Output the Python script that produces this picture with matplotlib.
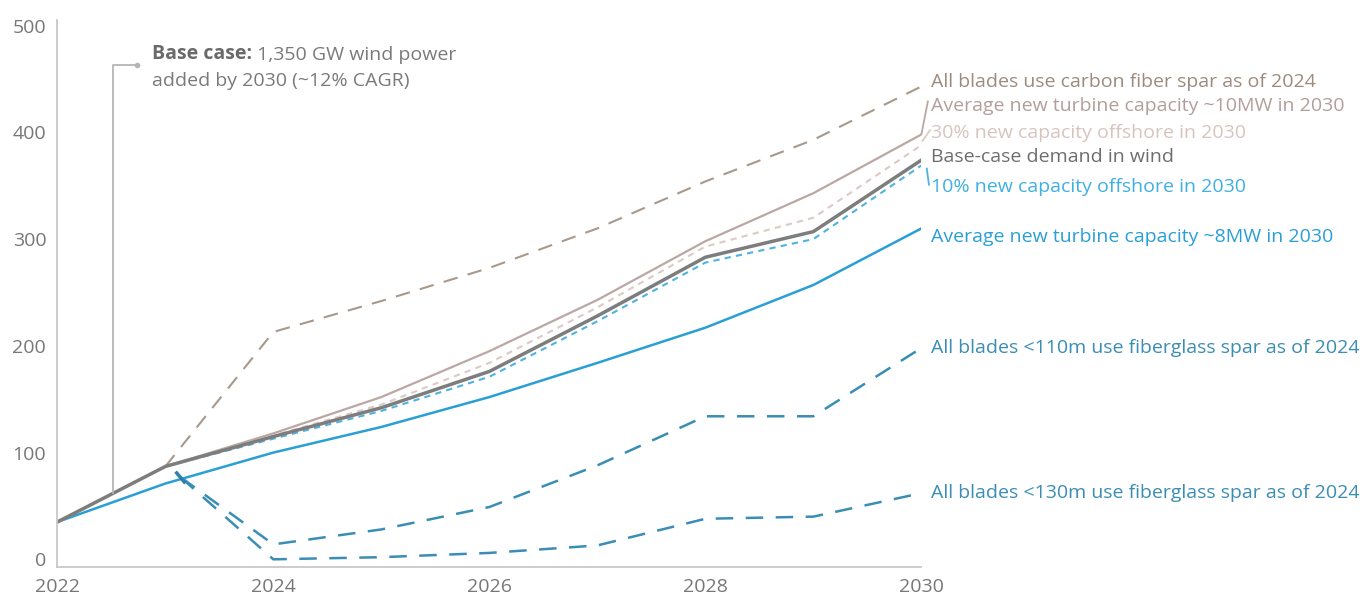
import numpy as np
import matplotlib.pyplot as plt

plt.rcParams['font.family'] = ['Open Sans', 'DejaVu Sans']

# ---- datos ----
years = [2022, 2023, 2024, 2025, 2026, 2027, 2028, 2029, 2030]
base = [35, 87, 115, 142, 176, 228, 283, 307, 374]
mw8 = [35, 71, 100, 124, 152, 184, 217, 257, 310]
off10 = [35, 87, 113, 139, 171, 223, 278, 300, 369]
off30 = [35, 87, 116, 145, 184, 236, 293, 320, 388]
mw10 = [35, 87, 118, 152, 195, 243, 298, 343, 398]

carbon_years = [2023, 2024, 2025, 2026, 2027, 2028, 2029, 2030]
carbon = [87, 213, 242, 273, 310, 354, 393, 443]

fg_years = [2023.14, 2024, 2025, 2026, 2027, 2028, 2029, 2030]
fg110 = [77, 14, 28, 49, 88, 134, 134, 198]
fg130 = [77, 0, 2, 6, 13, 38, 40, 62]

labels = ['All blades use carbon fiber spar as of 2024',
          'Average new turbine capacity ~10MW in 2030',
          '30% new capacity offshore in 2030',
          'Base-case demand in wind',
          '10% new capacity offshore in 2030',
          'Average new turbine capacity ~8MW in 2030',
          'All blades <110m use fiberglass spar as of 2024',
          'All blades <130m use fiberglass spar as of 2024']
label_y = [447, 425, 399, 377, 349, 302, 198, 62]
label_col = ['#9c8b7e', '#b29e9a', '#d8c4bf', '#6e6e6e', '#3fb0e0',
             '#2a9fd6', '#3a8db4', '#3a8db4']

fs = 14

fig = plt.figure(figsize=(13.65, 5.96), dpi=100)
ax = fig.add_axes([0.042, 0.049, 0.633, 0.917])

ax.plot(carbon_years, carbon, color='#a8998c', lw=1.5, dashes=(7, 5))
ax.plot(fg_years, fg110, color='#3a8db4', lw=1.8, dashes=(7, 5))
ax.plot(fg_years, fg130, color='#3a8db4', lw=1.8, dashes=(7, 5))
ax.plot(years, mw10, color='#bba7a3', lw=1.6)
ax.plot(years, off30, color='#dccac5', lw=1.5, dashes=(3, 2.5))
ax.plot(years, mw8, color='#2a9fd6', lw=1.8)
ax.plot(years, off10, color='#4db3e2', lw=1.5, dashes=(3, 2.5))
ax.plot(years, base, color='#7d7d7d', lw=2.5)
# marca de inicio de los escenarios de fibra de vidrio
ax.plot([fg_years[0]], [fg110[0]], marker=(2, 0, 40), markersize=11,
        color='#2f7fa8', mew=2.5)

# etiquetas a la derecha
for txt, yy, c in zip(labels, label_y, label_col):
    ax.text(2030.09, yy, txt, color=c, fontsize=fs, va='center', ha='left')

# lineas guia cortas
ax.plot([2030, 2030.06], [mw10[-1], 429], color='#bba7a3', lw=1.3, clip_on=False)
ax.plot([2030.01, 2030.08], [off30[-1] + 4, 402], color='#dccac5', lw=1.3, clip_on=False)
ax.plot([2030.05, 2030.07], [off10[-1] - 3, 351], color='#4db3e2', lw=1.3, clip_on=False)

# anotacion del caso base
xa = 2022.52
ya = np.interp(xa, years, base)
ax.plot([xa, xa, 2022.74], [ya, 463, 463], color='#b5b5b5', lw=1.3)
ax.plot([2022.74], [463], 'o', color='#b5b5b5', ms=3)
t1 = ax.text(2022.88, 473, 'Base case:', fontsize=fs, fontweight='bold',
             color='#6a6a6a', va='center', ha='left')
ax.annotate(' 1,350 GW wind power', xy=(1, 0), xycoords=t1, va='bottom',
            ha='left', fontsize=fs, color='#7a7a7a')
ax.text(2022.88, 448, 'added by 2030 (~12% CAGR)', fontsize=fs,
        color='#7a7a7a', va='center', ha='left')

ax.set_xlim(2022, 2030)
ax.set_ylim(-7, 505)
ax.set_xticks([2022, 2024, 2026, 2028, 2030])
ax.set_yticks([0, 100, 200, 300, 400, 500])
ax.tick_params(length=0, labelsize=fs, colors='#777777', pad=8)
for s in ['top', 'right']:
    ax.spines[s].set_visible(False)
for s in ['left', 'bottom']:
    ax.spines[s].set_color('#c8c8c8')
    ax.spines[s].set_linewidth(1.3)

fig.savefig('out.png', dpi=100)
